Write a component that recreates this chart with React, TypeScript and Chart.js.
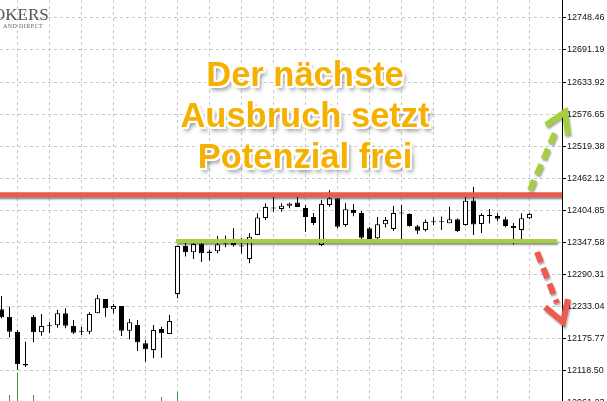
import React, { useEffect, useRef } from "react";
import { Chart, registerables } from "chart.js";

Chart.register(...registerables);

// ---- candle data (index 0..66) ----
const opens = [
  12228.4, 12215.2, 12188.5, 12130.9, 12215.2, 12187.4, 12198.1, 12199.9, 12221.3, 12198.7,
  12188.5, 12188.5, 12221.3, 12246.8, 12228.4, 12234.3, 12190.3, 12200.4, 12167.8, 12155.8,
  12193.3, 12184.4, 12255.7, 12341.4, 12330.2, 12345.5, 12331.6, 12332.0, 12344.1, 12346.8,
  12340.6, 12318.2, 12361.0, 12391.4, 12408.3, 12407.4, 12413.3, 12419.0, 12409.2, 12393.2,
  12343.2, 12414.6, 12426.5, 12378.9, 12405.6, 12400.3, 12373.0, 12355.2, 12380.3, 12371.7,
  12400.3, 12398.5, 12376.5, 12369.9, 12384.2, 12383.7, 12381.9, 12389.1, 12378.9, 12422.6,
  12380.6, 12396.4, 12394.9, 12389.1, 12377.1, 12369.9, 12391.0,
];
const highs = [
  12252.1, 12233.0, 12191.5, 12170.6, 12218.3, 12220.0, 12205.8, 12227.2, 12230.2, 12209.4,
  12196.9, 12223.1, 12253.9, 12246.8, 12237.9, 12234.3, 12211.1, 12209.4, 12173.7, 12200.4,
  12197.4, 12218.3, 12342.3, 12352.1, 12346.2, 12346.8, 12335.2, 12359.3, 12360.1, 12373.0,
  12355.7, 12364.1, 12399.7, 12417.6, 12429.7, 12417.6, 12418.7, 12429.4, 12414.6, 12400.3,
  12423.5, 12440.8, 12426.5, 12417.6, 12416.3, 12403.8, 12375.3, 12393.2, 12393.2, 12412.8,
  12414.6, 12399.7, 12378.9, 12388.7, 12392.6, 12394.0, 12411.5, 12390.5, 12428.8, 12446.7,
  12399.7, 12407.4, 12399.7, 12393.7, 12382.4, 12399.7, 12400.8,
];
const lows = [
  12212.4, 12178.5, 12120.2, 12125.6, 12169.6, 12181.3, 12186.2, 12195.6, 12194.6, 12184.4,
  12182.0, 12184.4, 12221.3, 12215.2, 12221.3, 12180.8, 12174.9, 12154.1, 12135.0, 12141.1,
  12142.1, 12184.4, 12248.0, 12322.6, 12318.2, 12312.8, 12315.5, 12328.4, 12339.1, 12340.2,
  12328.0, 12310.5, 12361.0, 12387.8, 12402.6, 12402.6, 12408.7, 12411.0, 12366.9, 12378.9,
  12341.4, 12411.5, 12373.0, 12375.8, 12394.4, 12346.8, 12352.1, 12353.6, 12374.4, 12368.2,
  12352.1, 12375.8, 12362.8, 12367.3, 12378.3, 12369.9, 12381.9, 12366.4, 12377.6, 12361.0,
  12364.6, 12381.5, 12385.5, 12374.8, 12344.1, 12352.7, 12389.6,
];
const closes = [
  12214.2, 12188.5, 12130.4, 12128.2, 12187.4, 12198.7, 12199.2, 12221.3, 12199.2, 12186.7,
  12189.7, 12220.0, 12248.0, 12230.2, 12234.3, 12190.3, 12205.3, 12169.6, 12157.1, 12191.5,
  12185.6, 12207.5, 12341.4, 12330.2, 12345.0, 12328.4, 12328.9, 12344.4, 12345.0, 12342.7,
  12341.4, 12358.0, 12392.3, 12411.0, 12409.2, 12413.1, 12417.4, 12411.0, 12393.2, 12382.4,
  12416.3, 12426.5, 12375.8, 12406.9, 12399.7, 12356.2, 12353.9, 12380.1, 12387.8, 12400.3,
  12399.2, 12377.1, 12368.5, 12384.2, 12383.7, 12384.2, 12389.1, 12368.2, 12422.2, 12379.7,
  12396.7, 12394.9, 12390.1, 12377.1, 12373.0, 12390.8, 12398.5,
];

// small volume bars visible at the bottom edge
const volumeCandles = [1, 2, 4, 20, 22];
const volumeHeights = [6, 28, 6, 4, 9];

// price axis ticks
const yTickValues = [
  12061.23, 12118.5, 12175.77, 12233.04, 12290.31, 12347.58, 12404.85,
  12462.12, 12519.38, 12576.65, 12633.92, 12691.19, 12748.46,
];
const gridCandleIndexes = [2, 6, 10, 14, 18, 22, 26, 30, 34, 38, 42, 46, 50, 54, 58, 62, 66];

// annotations
const resistanceLevel = 12433.0;
const supportLevel = 12350.3;
const supportFrom = 21.8;
const supportTo = 69.44;
const upArrowShaft = [{ x: 66.06, y: 12441.3 }, { x: 69.44, y: 12552.0 }];
const upArrowHead = [{ x: 70.81, y: 12539.5 }, { x: 70.44, y: 12580.5 }, { x: 68.06, y: 12557.3 }];
const downArrowShaft = [{ x: 66.94, y: 12330.7 }, { x: 69.44, y: 12239.7 }];
const downArrowHead = [{ x: 70.81, y: 12246.8 }, { x: 70.19, y: 12205.8 }, { x: 67.94, y: 12232.5 }];

const headline = ["Der nächste", "Ausbruch setzt", "Potenzial frei"];

const GREEN = "#a6cf40";
const RED = "#ee5a50";

export default function App() {
  const ref = useRef<HTMLCanvasElement>(null);

  useEffect(() => {
    const idx = opens.map((_, i) => i);
    const bodies = idx.map((i) => ({ x: i, y: [opens[i], closes[i]] }));
    const wicks = idx.map((i) => ({ x: i, y: [lows[i], highs[i]] }));
    const bodyColors = idx.map((i) => (closes[i] > opens[i] + 1.5 ? "#ffffff" : "#000000"));
    const vols = volumeCandles.map((c, k) => ({ x: c, y: volumeHeights[k] }));

    const shadowPlugin = {
      id: "shadowPlugin",
      beforeDatasetDraw(chart: any, args: any) {
        const ds = chart.data.datasets[args.index];
        if (ds.shadowColor) {
          const ctx = chart.ctx;
          ctx.save();
          ctx.shadowColor = ds.shadowColor;
          ctx.shadowOffsetX = 1;
          ctx.shadowOffsetY = 2;
          ctx.shadowBlur = 2;
        }
      },
      afterDatasetDraw(chart: any, args: any) {
        const ds = chart.data.datasets[args.index];
        if (ds.shadowColor) chart.ctx.restore();
      },
    };

    const lineBase = {
      type: "line" as const,
      pointRadius: 0,
      fill: false,
      tension: 0,
      borderCapStyle: "butt",
      borderJoinStyle: "miter",
      xAxisID: "x",
      yAxisID: "y",
    };

    const gridDash = (c: any) => (c && c.type === "tick" ? [3, 3] : []);

    const chart = new Chart(ref.current as HTMLCanvasElement, {
      type: "bar",
      data: {
        datasets: [
          {
            ...lineBase,
            label: "up arrow head",
            data: upArrowHead,
            borderColor: GREEN,
            borderWidth: 6,
            clip: false,
            order: -3,
            shadowColor: "rgba(0,0,0,0.35)",
          } as any,
          {
            ...lineBase,
            label: "up arrow",
            data: upArrowShaft,
            borderColor: GREEN,
            borderWidth: 6,
            borderDash: [11, 6],
            clip: false,
            order: -3,
            shadowColor: "rgba(0,0,0,0.35)",
          } as any,
          {
            ...lineBase,
            label: "down arrow head",
            data: downArrowHead,
            borderColor: RED,
            borderWidth: 6,
            clip: false,
            order: -3,
            shadowColor: "rgba(0,0,0,0.35)",
          } as any,
          {
            ...lineBase,
            label: "down arrow",
            data: downArrowShaft,
            borderColor: RED,
            borderWidth: 6,
            borderDash: [11, 6],
            clip: false,
            order: -3,
            shadowColor: "rgba(0,0,0,0.35)",
          } as any,
          {
            ...lineBase,
            label: "resistance",
            data: [{ x: -1, y: resistanceLevel }, { x: 71, y: resistanceLevel }],
            borderColor: RED,
            borderWidth: 5,
            order: -2,
            shadowColor: "rgba(0,0,0,0.45)",
          } as any,
          {
            ...lineBase,
            label: "support",
            data: [{ x: supportFrom, y: supportLevel }, { x: supportTo, y: supportLevel }],
            borderColor: GREEN,
            borderWidth: 4,
            order: -2,
            shadowColor: "rgba(0,0,0,0.45)",
          } as any,
          {
            label: "bodies",
            data: bodies as any,
            backgroundColor: bodyColors,
            borderColor: "#000000",
            borderWidth: 1,
            borderSkipped: false,
            barThickness: 5,
            minBarLength: 1,
            grouped: false,
            inflateAmount: 0,
            order: 0,
            xAxisID: "x",
            yAxisID: "y",
          } as any,
          {
            label: "wicks",
            data: wicks as any,
            backgroundColor: "#000000",
            borderWidth: 0,
            barThickness: 1,
            grouped: false,
            inflateAmount: 0,
            order: 1,
            xAxisID: "x",
            yAxisID: "y",
          } as any,
          {
            label: "volume",
            data: vols as any,
            backgroundColor: "#3c9a3c",
            borderWidth: 0,
            barThickness: 1,
            grouped: false,
            inflateAmount: 0,
            order: 2,
            xAxisID: "x",
            yAxisID: "yv",
          } as any,
        ],
      },
      options: {
        animation: false,
        responsive: false,
        events: [],
        layout: { padding: 0 },
        plugins: { legend: { display: false }, tooltip: { enabled: false } },
        scales: {
          x: {
            type: "linear",
            min: -0.1875,
            max: 70.0625,
            offset: false,
            afterBuildTicks: (s: any) => {
              s.ticks = gridCandleIndexes.map((v) => ({ value: v }));
            },
            afterFit: (s: any) => {
              s.height = 0;
              s.paddingLeft = 0;
              s.paddingRight = 0;
            },
            ticks: { display: false },
            grid: { color: "#c8c8c8", drawTicks: false, offset: false },
            border: { display: false, dash: gridDash },
          },
          y: {
            type: "linear",
            position: "right",
            min: 12064.8,
            max: 12780.4,
            beginAtZero: false,
            afterBuildTicks: (s: any) => {
              s.ticks = yTickValues.map((v) => ({ value: v }));
            },
            afterFit: (s: any) => {
              s.width = 45;
              s.paddingTop = 0;
              s.paddingBottom = 0;
            },
            ticks: {
              autoSkip: false,
              padding: 1,
              color: "#111111",
              font: { family: "Liberation Sans", size: 9 },
              callback: (v: any) => Number(v).toFixed(2),
            },
            grid: { color: "#c8c8c8", tickColor: "#000000", tickLength: 4, tickBorderDash: [] },
            border: { display: true, color: "#000000", width: 1, dash: gridDash },
          },
          yv: { type: "linear", display: false, min: 0, max: 401 },
        },
      } as any,
      plugins: [shadowPlugin],
    });
    return () => chart.destroy();
  }, []);

  const outline =
    "-2px -2px 0 #fff, 2px -2px 0 #fff, -2px 2px 0 #fff, 2px 2px 0 #fff, 0 -2px 0 #fff, 0 2px 0 #fff, -2px 0 0 #fff, 2px 0 0 #fff, 3px 4px 4px rgba(0,0,0,0.45)";

  return (
    <div
      style={{
        position: "fixed",
        left: 0,
        top: 0,
        width: 607,
        height: 401,
        overflow: "hidden",
        background: "#ffffff",
      }}
    >
      <canvas ref={ref} width={607} height={401} style={{ display: "block" }} />
      <div
        style={{
          position: "absolute",
          left: -7,
          top: 6,
          fontFamily: "Liberation Serif",
          fontSize: 17,
          lineHeight: "17px",
          color: "#555",
          whiteSpace: "nowrap",
        }}
      >
        OKERS
      </div>
      <div
        style={{
          position: "absolute",
          left: 3,
          top: 23,
          fontFamily: "Liberation Serif",
          fontSize: 6,
          lineHeight: "6px",
          letterSpacing: 0.4,
          color: "#666",
          whiteSpace: "nowrap",
        }}
      >
        AND DIRECT
      </div>
      <div
        style={{
          position: "absolute",
          left: 105,
          top: 54,
          width: 400,
          textAlign: "center",
          fontFamily: "Liberation Sans",
          fontWeight: "bold",
          fontSize: 34.5,
          lineHeight: "41px",
          color: "#f5b000",
          textShadow: outline,
          whiteSpace: "nowrap",
        }}
      >
        {headline.map((t) => (
          <div key={t}>{t}</div>
        ))}
      </div>
    </div>
  );
}
